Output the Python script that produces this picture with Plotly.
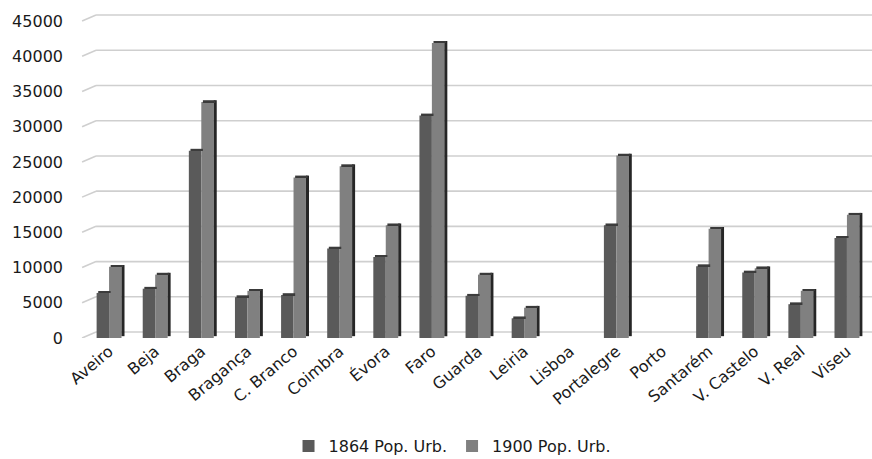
import plotly.graph_objects as go

# Urban population by district capital, 1864 and 1900
districts = ["Aveiro", "Beja", "Braga", "Bragança", "C. Branco", "Coimbra", "Évora",
             "Faro", "Guarda", "Leiria", "Lisboa", "Portalegre", "Porto", "Santarém",
             "V. Castelo", "V. Real", "Viseu"]
pop_1864 = [6400, 7000, 26600, 5800, 6100, 12700, 11500, 31600, 6000, 2800, None,
            16000, None, 10200, 9300, 4800, 14200]
pop_1900 = [10100, 9000, 33500, 6700, 22800, 24400, 16000, 41900, 9000, 4300, None,
            25900, None, 15500, 9900, 6700, 17500]
y_ticks = [0, 5000, 10000, 15000, 20000, 25000, 30000, 35000, 40000, 45000]

FONT = "DejaVu Sans"
C_1864 = "#5a5a5a"
C_1900 = "#808080"
C_SIDE = "#262626"
BAR_W = 0.27
SIDE_W = 0.065
LIFT = 260      # upward shift of the receding side face (data units)
DEPTH = 850     # vertical offset of the back wall (data units)

fig = go.Figure()

# front faces
fig.add_trace(go.Bar(x=districts, y=pop_1864, name="1864 Pop. Urb.", marker_color=C_1864,
                     marker_line_width=0, offset=-BAR_W, width=BAR_W))
fig.add_trace(go.Bar(x=districts, y=pop_1900, name="1900 Pop. Urb.", marker_color=C_1900,
                     marker_line_width=0, offset=0, width=BAR_W))

# receding right-hand side of the 1900 columns
side_base = [LIFT if v is not None else None for v in pop_1900]
fig.add_trace(go.Bar(x=districts, y=pop_1900, base=side_base, marker_color=C_SIDE,
                     marker_line_width=0, offset=BAR_W, width=SIDE_W, showlegend=False,
                     hoverinfo="skip"))

# top caps of both series
def caps(vals):
    return [LIFT if v is not None else None for v in vals]

fig.add_trace(go.Bar(x=districts, y=caps(pop_1864), base=pop_1864, marker_color="#3c3c3c",
                     marker_line_width=0, offset=-BAR_W + 0.035, width=BAR_W,
                     showlegend=False, hoverinfo="skip"))
fig.add_trace(go.Bar(x=districts, y=caps(pop_1900), base=pop_1900, marker_color="#3a3a3a",
                     marker_line_width=0, offset=0.035, width=BAR_W,
                     showlegend=False, hoverinfo="skip"))

# back-wall gridlines with a short receding floor edge on the left
x_front = -0.005
x_back = 0.0128
shapes = []
for v in y_ticks:
    shapes.append(dict(type="line", xref="paper", yref="y", x0=x_back, x1=1.003,
                       y0=v + DEPTH, y1=v + DEPTH, line=dict(color="#cfcfcf", width=1.6),
                       layer="below"))
    shapes.append(dict(type="line", xref="paper", yref="y", x0=x_front, x1=x_back,
                       y0=v, y1=v + DEPTH, line=dict(color="#cfcfcf", width=1.6),
                       layer="below"))

fig.update_layout(
    width=872, height=459,
    margin=dict(l=86, r=2, t=14, b=121, autoexpand=False),
    barmode="overlay",
    plot_bgcolor="white", paper_bgcolor="white",
    font=dict(family=FONT, size=16, color="#1a1a1a"),
    shapes=shapes,
    showlegend=True,
    legend=dict(orientation="h", x=0.4675, xanchor="center", y=-0.334, yanchor="middle",
                font=dict(family=FONT, size=16, color="#1a1a1a"), itemwidth=30,
                traceorder="normal"),
    xaxis=dict(tickangle=-40, showgrid=False, showline=False, ticks="", automargin=False,
               tickfont=dict(family=FONT, size=16)),
    yaxis=dict(range=[0, 46000], tickvals=y_ticks, ticktext=[str(t) for t in y_ticks],
               showgrid=False, zeroline=False, showline=False, ticks="", automargin=False,
               ticklabelstandoff=22, tickfont=dict(family=FONT, size=16)),
)

fig.write_html("out.html")
